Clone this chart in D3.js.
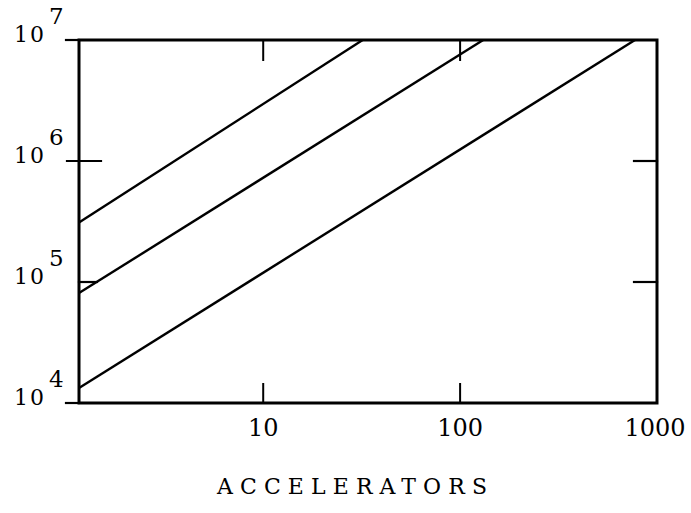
<!DOCTYPE html>
<html><head><meta charset="utf-8">
<script src="https://cdn.jsdelivr.net/npm/d3@7"></script>
<style>body{margin:0;background:#fff}svg{display:block}</style>
</head><body>
<script>
// Data
const xDomain = [1.16, 1000];
const yDomain = [1e4, 1e7];
const xTickValues = [10, 100, 1000];
const xTickLabels = ["10", "100", "1000"];
const yTickExponents = [4, 5, 6, 7];
const seriesNames = ["A", "B", "C"];
const seriesX = [[1.16, 32], [1.16, 131], [1.16, 773]];
const seriesY = [[3.1e5, 1e7], [8.1e4, 1e7], [1.33e4, 1e7]];
const xTitle = "ACCELERATORS";

const W = 691, H = 513;
const svg = d3.select("body").append("svg").attr("width", W).attr("height", H);
const x = d3.scaleLog().domain(xDomain).range([79, 657]);
const y = d3.scaleLog().domain(yDomain).range([403, 40]);
const ink = "#000";

// frame
const g = svg.append("g").attr("stroke", ink).attr("fill", "none").attr("stroke-linecap", "square");
g.append("path").attr("stroke-width", 3)
  .attr("d", `M${x(xDomain[0])},${y(yDomain[0])}V${y(yDomain[1])}H${x(xDomain[1])}V${y(yDomain[0])}Z`);

// x ticks bottom & top
[10, 100].forEach(v => {
  g.append("line").attr("stroke-width", 2).attr("x1", x(v)).attr("x2", x(v)).attr("y1", y(1e4)).attr("y2", y(1e4) - 19);
  g.append("line").attr("stroke-width", 2).attr("x1", x(v)).attr("x2", x(v)).attr("y1", y(1e7)).attr("y2", y(1e7) + 20);
});
// y ticks left
const leftTicks = [[1e4, -13, 0], [1e5, 0, 18], [1e6, -12, 22], [1e7, -13, 0]];
leftTicks.forEach(([v, a, b]) => {
  g.append("line").attr("stroke-width", 2.2).attr("x1", x(xDomain[0]) + a).attr("x2", x(xDomain[0]) + b).attr("y1", y(v)).attr("y2", y(v));
});
// y ticks right
[1e5, 1e6].forEach(v => {
  g.append("line").attr("stroke-width", 2.2).attr("x1", x(xDomain[1]) - 23).attr("x2", x(xDomain[1])).attr("y1", y(v)).attr("y2", y(v));
});

// series lines
const line = d3.line().x(d => x(d[0])).y(d => y(d[1]));
seriesNames.forEach((n, i) => {
  const pts = seriesX[i].map((xv, j) => [xv, seriesY[i][j]]);
  svg.append("path").attr("d", line(pts)).attr("fill", "none").attr("stroke", ink).attr("stroke-width", 2.4);
});

// x labels
const font = "'DejaVu Serif', serif";
xTickValues.forEach((v, i) => {
  svg.append("text").attr("x", x(v) - (v === 1000 ? 2 : 0)).attr("y", 436).attr("text-anchor", "middle")
    .attr("font-family", font).attr("font-size", 24).attr("fill", ink).text(xTickLabels[i]);
});
// y labels
yTickExponents.forEach(e => {
  const yy = y(Math.pow(10, e));
  svg.append("text").attr("font-family", font).attr("font-size", 22).attr("fill", ink)
    .attr("x", 14).attr("y", yy + 2).attr("textLength", 30).attr("lengthAdjust", "spacing").text("10");
  svg.append("text").attr("font-family", font).attr("font-size", 23).attr("fill", ink)
    .attr("x", 49).attr("y", yy - 16).text(String(e));
});
// title
svg.append("text").attr("x", 217).attr("y", 494).attr("font-family", font).attr("font-size", 22)
  .attr("fill", ink).attr("textLength", 270).attr("lengthAdjust", "spacing").text(xTitle);
</script>
</body></html>
